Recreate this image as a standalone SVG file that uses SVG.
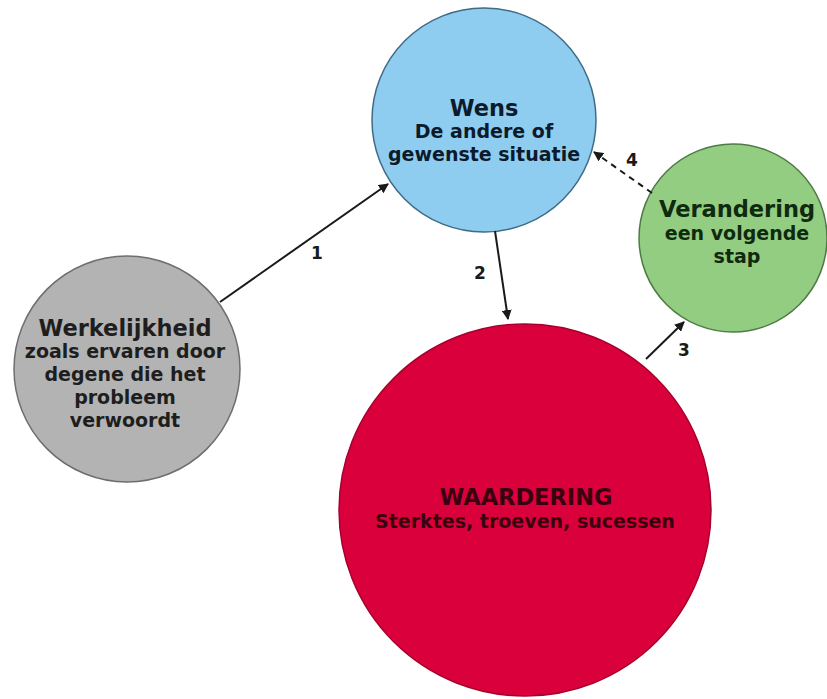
<svg xmlns="http://www.w3.org/2000/svg" width="827" height="699" viewBox="0 0 827 699">
<defs>
<style>
.t{font-family:"DejaVu Sans","Verdana",sans-serif;font-weight:bold;text-anchor:middle}
.h{font-size:22.5px}
.s{font-size:19px}
.lbl{font-family:"DejaVu Sans",sans-serif;font-weight:bold;font-size:17px;fill:#1a1a1a;text-anchor:middle}
.c{stroke:#1a1a1a;stroke-width:2;fill:none}
</style>
<marker id="ah" viewBox="0 0 10 10" refX="9" refY="5" markerWidth="5" markerHeight="5" orient="auto" markerUnits="strokeWidth">
<path d="M0,0 L10,5 L0,10 z" fill="#1a1a1a"/>
</marker>
</defs>
<rect width="827" height="699" fill="#ffffff"/>
<g id="waardering">
<circle cx="525" cy="510" r="186" fill="#d9003b" stroke="#a8002c" stroke-width="1.5"/>
<text class="t h" x="526" y="505" fill="#3a0010">WAARDERING</text>
<text class="t s" x="525" y="528" fill="#3a0010">Sterktes, troeven, sucessen</text>
</g>
<g id="wens">
<circle cx="484" cy="120" r="112" fill="#8ecdf0" stroke="#3f6b86" stroke-width="1.5"/>
<text class="t h" x="484" y="116" fill="#0d1a2b">Wens</text>
<text class="t s" x="484" y="138" fill="#0d1a2b">De andere of</text>
<text class="t s" x="484" y="161" fill="#0d1a2b">gewenste situatie</text>
</g>
<g id="verandering">
<circle cx="733" cy="238" r="94" fill="#93cd82" stroke="#4f7a45" stroke-width="1.5"/>
<text class="t h" x="737" y="217" fill="#0f2a0f">Verandering</text>
<text class="t s" x="737" y="240" fill="#0f2a0f">een volgende</text>
<text class="t s" x="737" y="263" fill="#0f2a0f">stap</text>
</g>
<g id="werkelijkheid">
<circle cx="127" cy="369" r="113" fill="#b3b3b3" stroke="#6e6e6e" stroke-width="1.5"/>
<text class="t h" x="125" y="336" fill="#1e1e1e">Werkelijkheid</text>
<text class="t s" x="125" y="358" fill="#1e1e1e">zoals ervaren door</text>
<text class="t s" x="125" y="381" fill="#1e1e1e">degene die het</text>
<text class="t s" x="125" y="404" fill="#1e1e1e">probleem</text>
<text class="t s" x="125" y="427" fill="#1e1e1e">verwoordt</text>
</g>
<g id="connectors">
<line class="c" x1="220" y1="302" x2="388" y2="184" marker-end="url(#ah)"/>
<line class="c" x1="495" y1="231" x2="508" y2="319" marker-end="url(#ah)"/>
<line class="c" x1="646" y1="359" x2="684" y2="322" marker-end="url(#ah)"/>
<line class="c" x1="652" y1="193" x2="594" y2="152" stroke-dasharray="6,5" marker-end="url(#ah)"/>
<text class="lbl" x="317" y="259">1</text>
<text class="lbl" x="480" y="279">2</text>
<text class="lbl" x="684" y="356">3</text>
<text class="lbl" x="632" y="166">4</text>
</g>
</svg>
